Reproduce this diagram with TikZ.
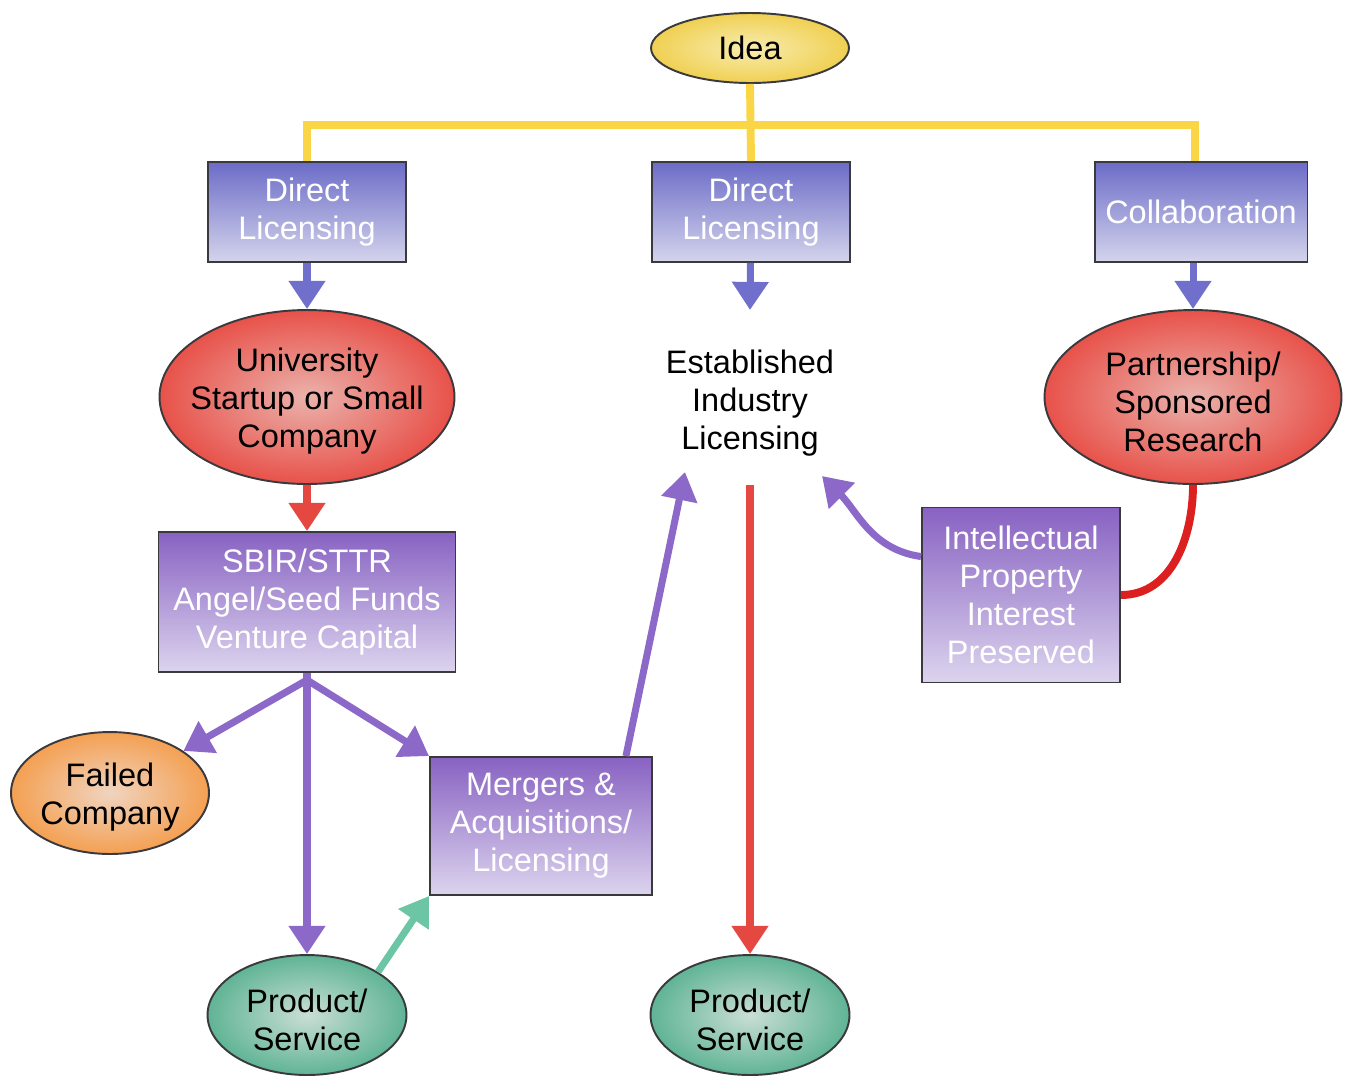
\documentclass[tikz,border=0pt]{standalone}
\usepackage{fontspec}
\setmainfont{Liberation Sans}
\usetikzlibrary{arrows.meta,shapes.geometric}

\definecolor{edgegray}{RGB}{58,58,62}
\definecolor{blutop}{RGB}{108,108,200}
\definecolor{blubot}{RGB}{212,212,236}
\definecolor{purtop}{RGB}{136,98,194}
\definecolor{purbot}{RGB}{220,212,238}
\definecolor{bluarrow}{RGB}{112,112,204}
\definecolor{purarrow}{RGB}{140,104,200}
\definecolor{redarrow}{RGB}{228,72,64}
\definecolor{redcurve}{RGB}{220,32,32}
\definecolor{grnarrow}{RGB}{108,198,166}
\definecolor{yelline}{RGB}{250,214,70}
\definecolor{redout}{RGB}{232,82,74}
\definecolor{redin}{RGB}{234,178,172}
\definecolor{orgout}{RGB}{244,160,82}
\definecolor{orgin}{RGB}{240,212,192}
\definecolor{grnout}{RGB}{96,180,150}
\definecolor{grnin}{RGB}{202,222,214}
\definecolor{yelout}{RGB}{240,208,82}
\definecolor{yelin}{RGB}{248,236,176}

\begin{document}
\begin{tikzpicture}[x=0.02cm,y=-0.02cm,
  every node/.style={font=\fontsize{18.5}{21.6}\selectfont,align=center},
  bluebox/.style={rectangle,draw=edgegray,line width=1.1pt,top color=blutop,bottom color=blubot,text=white,inner sep=0pt},
  purpbox/.style={rectangle,draw=edgegray,line width=1.1pt,top color=purtop,bottom color=purbot,text=white,inner sep=0pt},
  blob/.style={ellipse,draw=edgegray,line width=1.1pt,inner sep=0pt},
  lowtext/.style={yshift=-0.09cm},
  feed/.style={line width=4pt,-{Triangle[width=20pt,length=16pt]}}]
\useasboundingbox (0,0) rectangle (1345,1076);

% top of the tree
\node[blob,inner color=yelin,outer color=yelout,minimum width=3.96cm,minimum height=1.4cm,label={center:Idea}] (idea) at (750,48) {};
\node[bluebox,minimum width=3.96cm,minimum height=2cm] (dl1) at (307,212) {Direct\\Licensing};
\node[bluebox,minimum width=3.96cm,minimum height=2cm] (dl2) at (751,212) {Direct\\Licensing};
\node[bluebox,minimum width=4.26cm,minimum height=2cm] (collab) at (1201,212) {Collaboration};
\coordinate (bus) at (750,125);
\draw[yelline,line width=4.5pt] (idea.south) -- (dl2.north);
\draw[yelline,line width=4.5pt] (dl1.north) |- (bus) -| ([xshift=-0.12cm]collab.north);

% second row
\node[blob,inner color=redin,outer color=redout,minimum width=5.9cm,minimum height=3.48cm,
  label={[lowtext]center:University\\Startup or Small\\Company}] (univ) at (307,397) {};
\node (estab) at (750,403) {Established\\Industry\\Licensing};
\node[blob,inner color=redin,outer color=redout,minimum width=5.94cm,minimum height=3.48cm,
  label={[lowtext]center:Partnership/\\Sponsored\\Research}] (partner) at (1193,397) {};
\coordinate (estabtop) at (750,310);
\coordinate (estabbot) at (750,485);
\coordinate (estabin) at (685,472);
\coordinate (estabip) at (822,476);
\draw[feed,bluarrow] (dl1) -- (univ);
\draw[feed,bluarrow] (dl2) -- (estabtop);
\draw[feed,bluarrow] (collab.south -| partner.north) -- (partner);

% funding and IP
\node[purpbox,minimum width=5.94cm,minimum height=2.8cm] (sbir) at (307,602) {SBIR/STTR\\Angel/Seed Funds\\Venture Capital};
\node[purpbox,minimum width=3.96cm,minimum height=3.5cm] (ip) at (1021,595) {Intellectual\\Property\\Interest\\Preserved};
\draw[feed,redarrow] (univ) -- (sbir);
\draw[redcurve,line width=4.5pt] (partner.south) to[out=-90,in=0] (ip.east);
\draw[feed,purarrow] ([yshift=-1cm]ip.north west) to[out=172,in=-45] (estabip);

% outcomes
\node[blob,inner color=orgin,outer color=orgout,minimum width=3.96cm,minimum height=2.44cm,
  label={[lowtext]center:Failed\\Company}] (failed) at (110,793) {};
\node[purpbox,minimum width=4.44cm,minimum height=2.76cm] (merg) at (541,826) {Mergers \&\\Acquisitions/\\Licensing};
\node[blob,inner color=grnin,outer color=grnout,minimum width=3.98cm,minimum height=2.4cm,
  label={[lowtext]center:Product/\\Service}] (prod1) at (307,1015) {};
\node[blob,inner color=grnin,outer color=grnout,minimum width=3.98cm,minimum height=2.4cm,
  label={[lowtext]center:Product/\\Service}] (prod2) at (750,1015) {};
\coordinate (split) at (307,680);
\draw[purarrow,line width=4pt] (sbir.south) -- (split);
\draw[feed,purarrow] (split) -- (failed);
\draw[feed,purarrow] (split) -- (prod1);
\draw[feed,purarrow] (split) -- (merg.north west);
\draw[feed,purarrow] ([xshift=-0.54cm]merg.north east) -- (estabin);
\draw[feed,grnarrow] (prod1.north east) -- (merg.south west);
\draw[feed,redarrow] (estabbot) -- (prod2);
\end{tikzpicture}
\end{document}
